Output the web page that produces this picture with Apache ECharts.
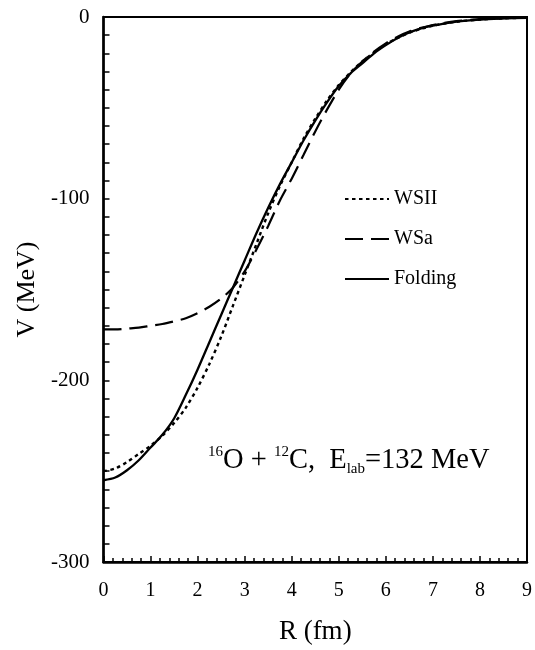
<!DOCTYPE html>
<html>
<head>
<meta charset="utf-8">
<script src="https://cdn.jsdelivr.net/npm/echarts@6/dist/echarts.min.js"></script>
<style>html,body{margin:0;padding:0;background:#fff;}#c{width:535px;height:650px;}</style>
</head>
<body>
<div id="c"></div>
<script>
const R = [0,0.25,0.5,0.75,1,1.25,1.5,1.75,2,2.25,2.5,2.75,3,3.25,3.5,3.75,4,4.25,4.5,4.75,5,5.25,5.5,5.75,6,6.25,6.5,6.75,7,7.5,8,8.5,9];
const wsII = [-250,-248.5,-245,-240.5,-236,-230.5,-223.5,-215,-204,-191,-176,-159,-142,-125,-108,-93,-80,-67,-56,-46,-37.5,-30.5,-24.5,-19.5,-15,-11.5,-8.7,-6.5,-4.8,-2.6,-1.4,-0.7,-0.4];
const wsA = [-172,-172,-171.5,-171,-170,-169,-167.5,-165.8,-163,-159.5,-155,-149,-140,-128,-115,-101,-89,-76,-63,-51,-40,-31,-24.5,-19,-14.5,-10.8,-8,-6,-4.4,-2.3,-1.2,-0.6,-0.3];
const folding = [-255,-253.5,-249.5,-244,-237,-230,-221,-208,-194,-179,-164,-149,-134,-119,-105,-92,-80,-68,-57,-47,-38,-31,-25.5,-20,-15.5,-11.5,-8.5,-6.3,-4.8,-2.6,-1.4,-0.8,-0.4];
const seriesNames = ['WSII','WSa','Folding'];
const xTicks = [0,1,2,3,4,5,6,7,8,9];
const yTicks = [-300,-200,-100,0];

const FONT = '"Liberation Serif","Times New Roman",serif';
const pair = arr => R.map((r,i)=>[r,arr[i]]);
const chart = echarts.init(document.getElementById('c'), null, {renderer:'canvas'});
chart.setOption({
  animation:false,
  backgroundColor:'#fff',
  grid:{left:103.5,right:8,top:17,bottom:88,show:true,borderColor:'#000',borderWidth:2,backgroundColor:'transparent'},
  legend:{
    orient:'vertical', left:339, top:184, itemWidth:44, itemHeight:14, itemGap:20,
    itemStyle:{opacity:0},
    textStyle:{fontFamily:FONT,fontSize:20,color:'#000'},
    data:seriesNames
  },
  xAxis:{
    type:'value', min:xTicks[0], max:xTicks[xTicks.length-1], interval:1,
    name:'R (fm)', nameLocation:'middle', nameGap:56,
    nameTextStyle:{fontFamily:FONT,fontSize:27,color:'#000'},
    axisLine:{show:true,onZero:false,lineStyle:{color:'#000',width:2.5}},
    axisTick:{show:true,inside:true,length:6,lineStyle:{color:'#000',width:1.5}},
    minorTick:{show:true,splitNumber:5,length:4,lineStyle:{color:'#000',width:1.5}},
    axisLabel:{fontFamily:FONT,fontSize:20,color:'#000',margin:19},
    splitLine:{show:false}
  },
  yAxis:{
    type:'value', min:yTicks[0], max:yTicks[yTicks.length-1], interval:100,
    name:'V (MeV)', nameLocation:'middle', nameGap:60, nameRotate:90,
    nameTextStyle:{fontFamily:FONT,fontSize:26,color:'#000'},
    axisLine:{show:true,onZero:false,lineStyle:{color:'#000',width:2.5}},
    axisTick:{show:true,inside:true,length:6,lineStyle:{color:'#000',width:1.5}},
    minorTick:{show:true,splitNumber:10,length:6,lineStyle:{color:'#000',width:1.5}},
    axisLabel:{fontFamily:FONT,fontSize:21,color:'#000',margin:14},
    splitLine:{show:false}
  },
  series:[
    {name:seriesNames[0],type:'line',data:pair(wsII),symbol:'none',smooth:0.3,
     lineStyle:{color:'#000',width:2.4,type:[3.5,3.5]},itemStyle:{color:'#000'}},
    {name:seriesNames[1],type:'line',data:pair(wsA),symbol:'none',smooth:0.3,
     lineStyle:{color:'#000',width:2.2,type:[18,8]},itemStyle:{color:'#000'}},
    {name:seriesNames[2],type:'line',data:pair(folding),symbol:'none',smooth:0.3,
     lineStyle:{color:'#000',width:2.3,type:'solid'},itemStyle:{color:'#000'}}
  ],
  graphic:[{
    type:'text', left:208, top:445,
    style:{
      text:'{sup|16}O + {sup|12}C,  E{sub|lab}=132 MeV',
      fontFamily:FONT, fontSize:28.5, fill:'#000', lineHeight:32,
      rich:{
        sup:{fontFamily:FONT,fontSize:15,lineHeight:20,verticalAlign:'top',fill:'#000'},
        sub:{fontFamily:FONT,fontSize:15,lineHeight:18,verticalAlign:'bottom',fill:'#000'}
      }
    }
  }]
});
</script>
</body>
</html>
